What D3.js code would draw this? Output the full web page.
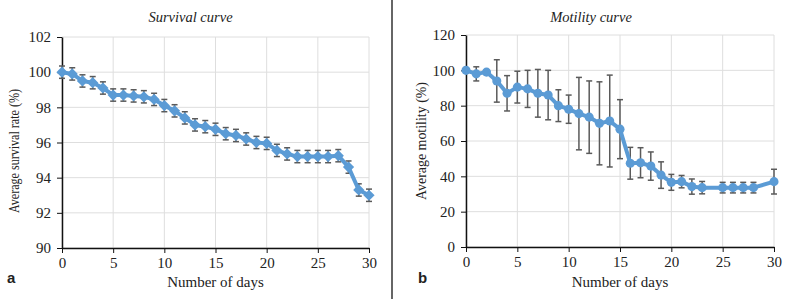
<!DOCTYPE html>
<html>
<head>
<meta charset="utf-8">
<script src="https://cdn.jsdelivr.net/npm/d3@7"></script>
<style>
  body { margin: 0; background: #fff; }
  svg text { font-family: 'Liberation Serif', 'Times New Roman', serif; fill: #222; }
  .axis path, .axis line { stroke: #111; }
  .grid line { stroke: #dedede; }
</style>
</head>
<body>
<div id="chart"></div>
<script>
// survival (panel a)
let survDays = d3.range(0, 31)
let survival = [100, 99.9, 99.5, 99.4, 99.1, 98.7, 98.7, 98.65, 98.6, 98.45, 98.1, 97.8, 97.4, 97.0, 96.9, 96.75,
  96.5, 96.4, 96.2, 96.0, 95.95, 95.55, 95.35, 95.2, 95.2, 95.2, 95.2, 95.25, 94.6, 93.3, 93.0]
let survivalErr = survival.map(() => 0.35)
let survTicks = [90, 92, 94, 96, 98, 100, 102]

// motility (panel b) - no readings on day 24 and 29
let motDays = [0, 1, 2, 3, 4, 5, 6, 7, 8, 9, 10, 11, 12, 13, 14, 15, 16, 17, 18, 19, 20, 21, 22, 23, 25, 26, 27, 28, 30]
let motility = [100, 98, 99, 94, 87, 90.5, 89.5, 87, 86, 80, 78, 75.5, 73.5, 70, 71.3, 66.7, 47.4, 47.7, 45.8, 40.7,
  36.6, 37, 34.2, 33.6, 33.6, 33.6, 33.6, 33.6, 37]
let motilityErr = [0, 4, 1, 12, 10, 9, 10.5, 13.5, 14, 9, 8, 20.5, 20.5, 23.5, 26, 16.7, 9, 8.5, 8, 7.5,
  4.5, 3.5, 4.3, 3.5, 3, 3, 3, 3, 7]
let motTicks = [0, 20, 40, 60, 80, 100, 120]

let dayTicks = [0, 5, 10, 15, 20, 25, 30]

let width = 787
let height = 299
let blue = '#5b9bd5'
let errColor = '#5a5a5a'

let svg = d3.select('#chart')
  .append('svg')
  .attr('width', width)
  .attr('height', height)

// divider between the panels
svg.append('line')
  .attr('x1', 392).attr('x2', 392)
  .attr('y1', 0).attr('y2', height)
  .attr('stroke', '#333').attr('stroke-width', 1.5)

function panel(opt) {
  let xScale = d3.scaleLinear().domain([0, 30]).range([opt.left, opt.right])
  let yScale = d3.scaleLinear().domain(opt.yDomain).range([opt.bottom, opt.top])
  let g = svg.append('g')

  // gridlines
  g.append('g').attr('class', 'grid')
    .selectAll('line.h').data(opt.yTicks).enter().append('line')
    .attr('x1', opt.left).attr('x2', opt.right)
    .attr('y1', d => yScale(d)).attr('y2', d => yScale(d))
  g.append('g').attr('class', 'grid')
    .selectAll('line.v').data(dayTicks).enter().append('line')
    .attr('x1', d => xScale(d)).attr('x2', d => xScale(d))
    .attr('y1', opt.top).attr('y2', opt.bottom)

  // axes
  g.append('g')
    .attr('class', 'axis')
    .attr('transform', 'translate(0, ' + opt.bottom + ')')
    .call(d3.axisBottom(xScale).tickValues(dayTicks).tickSize(5).tickSizeOuter(0).tickPadding(4))
  g.append('g')
    .attr('class', 'axis')
    .attr('transform', 'translate(' + opt.left + ', 0)')
    .call(d3.axisLeft(yScale).tickValues(opt.yTicks).tickSize(5).tickSizeOuter(0).tickPadding(6))
  g.selectAll('.axis').attr('font-family', null).attr('font-size', null)
  g.selectAll('.axis path').attr('stroke-width', 1.5)
  g.selectAll('.axis text')
    .style('font-family', "'Liberation Serif', serif")
    .style('font-size', '15px')
    .attr('fill', '#222')

  // error bars
  let eb = g.append('g')
  opt.xs.forEach((d, i) => {
    let e = opt.err[i]
    if (!e) return
    let x = xScale(d)
    eb.append('line')
      .attr('x1', x).attr('x2', x)
      .attr('y1', yScale(opt.ys[i] - e)).attr('y2', yScale(opt.ys[i] + e))
      .attr('stroke', errColor).attr('stroke-width', 1.5)
    ;[opt.ys[i] - e, opt.ys[i] + e].forEach(v => {
      eb.append('line')
        .attr('x1', x - 3).attr('x2', x + 3)
        .attr('y1', yScale(v)).attr('y2', yScale(v))
        .attr('stroke', errColor).attr('stroke-width', 1.5)
    })
  })

  // line
  let line = d3.line()
    .x((d, i) => xScale(opt.xs[i]))
    .y(d => yScale(d))
  g.append('path')
    .datum(opt.ys)
    .attr('d', line)
    .attr('fill', 'none')
    .attr('stroke', blue)
    .attr('stroke-width', 4)
    .attr('stroke-linejoin', 'round')

  // markers
  g.selectAll('path.marker')
    .data(opt.ys)
    .enter()
    .append('path')
    .attr('class', 'marker')
    .attr('transform', (d, i) => 'translate(' + xScale(opt.xs[i]) + ',' + yScale(d) + ')')
    .attr('d', d3.symbol().type(opt.symbol).size(opt.symbolSize))
    .attr('fill', blue)

  // titles
  g.append('text')
    .attr('x', (opt.left + opt.right) / 2 + opt.titleShift)
    .attr('y', 22)
    .attr('text-anchor', 'middle')
    .style('font-size', '14.5px')
    .style('font-style', 'italic')
    .text(opt.title)
  g.append('text')
    .attr('x', (opt.left + opt.right) / 2)
    .attr('y', 287)
    .attr('text-anchor', 'middle')
    .style('font-size', '15px')
    .text('Number of days')
  g.append('text')
    .attr('transform', 'translate(' + opt.yTitleX + ',' + opt.yTitleY + ') rotate(-90)')
    .attr('text-anchor', 'middle')
    .attr('textLength', opt.yTitleLen)
    .attr('lengthAdjust', 'spacingAndGlyphs')
    .style('font-size', '14.5px')
    .text(opt.yTitle)
  g.append('text')
    .attr('x', opt.tagX)
    .attr('y', 283)
    .style('font-family', "'Liberation Sans', Arial, sans-serif")
    .style('font-weight', 'bold')
    .style('font-size', '15px')
    .attr('fill', '#111')
    .text(opt.tag)
}

panel({
  left: 62, right: 369, top: 37, bottom: 248,
  yDomain: [90, 102], yTicks: survTicks,
  xs: survDays, ys: survival, err: survivalErr,
  symbol: d3.symbolDiamond2, symbolSize: 80,
  title: 'Survival curve', titleShift: -25,
  yTitle: 'Average survival rate (%)', yTitleX: 19, yTitleY: 151, yTitleLen: 124,
  tag: 'a', tagX: 7
})

panel({
  left: 466, right: 774, top: 35, bottom: 247,
  yDomain: [0, 120], yTicks: motTicks,
  xs: motDays, ys: motility, err: motilityErr,
  symbol: d3.symbolCircle, symbolSize: 65,
  title: 'Motility curve', titleShift: -29,
  yTitle: 'Average motility (%)', yTitleX: 426, yTitleY: 141, yTitleLen: 118,
  tag: 'b', tagX: 418
})
</script>
</body>
</html>
